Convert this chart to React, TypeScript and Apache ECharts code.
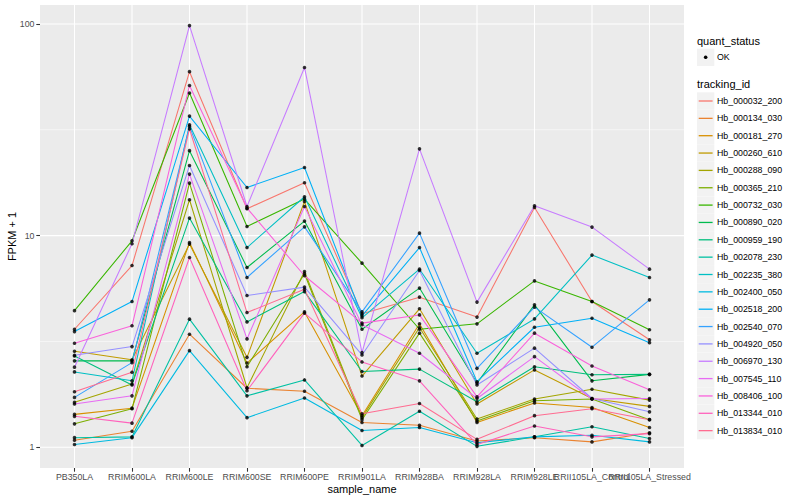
import React, { useEffect, useRef } from "react";
import * as echarts from "echarts";

// ---------------- data ----------------
const sampleNames = [
  "PB350LA",
  "RRIM600LA",
  "RRIM600LE",
  "RRIM600SE",
  "RRIM600PE",
  "RRIM901LA",
  "RRIM928BA",
  "RRIM928LA",
  "RRIM928LE",
  "RRII105LA_Control",
  "RRII105LA_Stressed",
];

const trackingIds = [
  "Hb_000032_200",
  "Hb_000134_030",
  "Hb_000181_270",
  "Hb_000260_610",
  "Hb_000288_090",
  "Hb_000365_210",
  "Hb_000732_030",
  "Hb_000890_020",
  "Hb_000959_190",
  "Hb_002078_230",
  "Hb_002235_380",
  "Hb_002400_050",
  "Hb_002518_200",
  "Hb_002540_070",
  "Hb_004920_050",
  "Hb_006970_130",
  "Hb_007545_110",
  "Hb_008406_100",
  "Hb_013344_010",
  "Hb_013834_010",
];

// FPKM + 1 per sample, one array per tracking_id
const hb000032_200 = [3.61, 7.22, 59.5, 13.39, 17.77, 4.27, 5.12, 4.12, 13.58, 4.88, 3.22];
const hb000134_030 = [1.08, 1.19, 3.42, 1.9, 1.84, 1.31, 1.27, 1.07, 1.11, 1.06, 1.17];
const hb000181_270 = [1.43, 1.53, 9.28, 2.5, 4.36, 1.41, 3.83, 1.31, 1.62, 1.54, 1.24];
const hb000260_610 = [2.84, 2.59, 9.12, 2.66, 14.5, 2.17, 4.51, 1.6, 2.32, 1.7, 1.56];
const hb000288_090 = [1.63, 1.99, 14.77, 1.91, 6.77, 1.38, 3.68, 1.36, 1.69, 1.88, 1.67];
const hb000365_210 = [1.29, 1.52, 17.71, 2.4, 6.6, 1.35, 3.46, 1.33, 1.66, 1.69, 1.35];
const hb000732_030 = [4.42, 9.45, 47.2, 11.04, 14.88, 7.41, 3.61, 3.83, 6.11, 4.88, 3.59];
const hb000890_020 = [2.56, 2.56, 25.2, 7.07, 11.71, 3.61, 5.65, 2.01, 4.71, 2.06, 2.21];
const hb000959_190 = [2.7, 1.97, 12.1, 3.91, 5.44, 2.28, 2.34, 1.64, 2.4, 2.2, 2.21];
const hb002078_230 = [1.11, 1.12, 4.03, 1.75, 2.08, 1.02, 1.48, 1.01, 1.12, 1.25, 1.1];
const hb002235_380 = [2.27, 2.06, 33.4, 8.78, 15.26, 4.09, 6.94, 2.78, 4.04, 8.09, 6.34];
const hb002400_050 = [1.03, 1.11, 2.86, 1.38, 1.71, 1.2, 1.24, 1.05, 1.12, 1.14, 1.06];
const hb002518_200 = [3.52, 4.88, 36.7, 16.88, 20.99, 4.18, 8.78, 2.04, 3.69, 4.07, 3.12];
const hb002540_070 = [1.72, 2.51, 32.8, 6.34, 11.0, 4.36, 10.27, 2.36, 4.59, 2.97, 4.97];
const hb004920_050 = [2.72, 2.99, 21.45, 5.21, 5.71, 2.73, 6.84, 1.97, 2.94, 1.7, 1.47];
const hb006970_130 = [2.39, 9.15, 98.2, 13.73, 62.3, 2.8, 25.7, 4.85, 13.83, 10.97, 6.94];
const hb007545_110 = [1.6, 1.75, 19.53, 3.25, 13.73, 3.79, 2.78, 1.7, 2.68, 1.69, 1.7];
const hb008406_100 = [3.1, 3.75, 51.2, 13.49, 6.46, 3.86, 4.22, 1.73, 3.46, 2.42, 1.87];
const hb013344_010 = [1.4, 1.3, 7.88, 1.85, 4.3, 2.53, 2.06, 1.03, 1.26, 1.12, 1.16];
const hb013834_010 = [1.83, 2.26, 31.9, 4.33, 5.58, 1.44, 1.61, 1.09, 1.41, 1.52, 1.35];

const seriesValues = [
  hb000032_200, hb000134_030, hb000181_270, hb000260_610, hb000288_090,
  hb000365_210, hb000732_030, hb000890_020, hb000959_190, hb002078_230,
  hb002235_380, hb002400_050, hb002518_200, hb002540_070, hb004920_050,
  hb006970_130, hb007545_110, hb008406_100, hb013344_010, hb013834_010,
];

const quantStatus = ["OK"];

const yMajorBreaks = [1, 10, 100];
const yMinorBreaks = [3.1623, 31.623];

// ---------------- styles ----------------
const palette = [
  "#F8766D", "#EA8331", "#D89000", "#C09B00", "#A3A500",
  "#7CAE00", "#39B600", "#00BB4E", "#00BF7D", "#00C1A3",
  "#00BFC4", "#00BAE0", "#00B0F6", "#35A2FF", "#9590FF",
  "#C77CFF", "#E76BF3", "#FA62DB", "#FF62BC", "#FF6C91",
];
const FONT = "Liberation Sans, Arial, Helvetica, sans-serif";

export default function App() {
  const ref = useRef<HTMLDivElement>(null);

  useEffect(() => {
    if (!ref.current) return;
    const chart = echarts.init(ref.current, null, { renderer: "svg" });

    const lineSeries = trackingIds.map((id, k) => ({
      name: id,
      type: "line",
      data: seriesValues[k],
      symbol: "none",
      z: 2,
      silent: true,
      lineStyle: { color: palette[k], width: 1.07 },
      itemStyle: { color: palette[k] },
    }));

    const pointData: any[] = [];
    seriesValues.forEach((vals) => {
      vals.forEach((v, i) => pointData.push([sampleNames[i], v]));
    });

    const option: any = {
      animation: false,
      backgroundColor: "#FFFFFF",
      textStyle: { fontFamily: FONT },
      grid: {
        left: 45.75,
        top: 5,
        width: 632.5,
        height: 463,
        containLabel: false,
        outerBoundsMode: "none",
      },
      xAxis: {
        type: "category",
        data: sampleNames,
        boundaryGap: true,
        axisLine: { show: false },
        axisTick: {
          show: true,
          alignWithLabel: true,
          length: 3.7,
          lineStyle: { color: "#333333", width: 1.07 },
        },
        axisLabel: {
          interval: 0,
          hideOverlap: false,
          margin: 4.5,
          fontSize: 8.8,
          color: "#4D4D4D",
          fontFamily: FONT,
        },
        splitLine: { show: false },
        name: "sample_name",
        nameLocation: "middle",
        nameGap: 15,
        nameMoveOverlap: false,
        nameTextStyle: { fontSize: 11, color: "#000000", fontFamily: FONT },
      },
      yAxis: {
        type: "log",
        logBase: 10,
        min: 0.798,
        max: 122.9,
        offset: 5.75,
        axisLine: { show: false },
        axisTick: {
          show: true,
          length: 3.7,
          customValues: yMajorBreaks,
          lineStyle: { color: "#333333", width: 1.07 },
        },
        axisLabel: {
          customValues: yMajorBreaks,
          margin: 5.5,
          fontSize: 8.8,
          color: "#4D4D4D",
          fontFamily: FONT,
        },
        splitLine: { show: false },
        minorSplitLine: { show: false },
        name: "FPKM + 1",
        nameLocation: "middle",
        nameGap: 23,
        nameMoveOverlap: false,
        nameTextStyle: { fontSize: 11, color: "#000000", fontFamily: FONT },
      },
      series: [
        ...lineSeries,
        {
          name: quantStatus[0],
          type: "scatter",
          data: pointData,
          symbol: "circle",
          symbolSize: 3.6,
          z: 3,
          silent: true,
          itemStyle: { color: "#000000" },
        },
      ],
    };

    chart.setOption(option);

    const yToPx = (v: number): number => {
      const p = chart.convertToPixel({ gridIndex: 0 }, [sampleNames[0], v]) as any;
      return Array.isArray(p) ? p[1] : NaN;
    };
    const xToPx = (s: string): number => {
      const p = chart.convertToPixel({ gridIndex: 0 }, [s, 1]) as any;
      return Array.isArray(p) ? p[0] : NaN;
    };

    // panel decorations (ggplot theme_gray) positioned through the axes' scales
    const P = { left: 40, right: 684, top: 5, bottom: 468 };
    const els: any[] = [];
    els.push({
      type: "rect",
      z: -10,
      silent: true,
      shape: { x: P.left, y: P.top, width: P.right - P.left, height: P.bottom - P.top },
      style: { fill: "#EBEBEB" },
    });
    yMinorBreaks.forEach((v) => {
      const y = yToPx(v);
      els.push({
        type: "line",
        z: -9,
        silent: true,
        shape: { x1: P.left, y1: y, x2: P.right, y2: y },
        style: { stroke: "#FFFFFF", lineWidth: 0.53 },
      });
    });
    yMajorBreaks.forEach((v) => {
      const y = yToPx(v);
      els.push({
        type: "line",
        z: -8,
        silent: true,
        shape: { x1: P.left, y1: y, x2: P.right, y2: y },
        style: { stroke: "#FFFFFF", lineWidth: 1.07 },
      });
    });
    sampleNames.forEach((s) => {
      const x = xToPx(s);
      els.push({
        type: "line",
        z: -8,
        silent: true,
        shape: { x1: x, y1: P.top, x2: x, y2: P.bottom },
        style: { stroke: "#FFFFFF", lineWidth: 1.07 },
      });
    });

    // legend
    const LX = 697;
    const KEY = 17.3;
    const TX = 717;
    els.push({
      type: "text",
      x: LX,
      y: 40.7,
      silent: true,
      style: { text: "quant_status", fontSize: 11, fill: "#000000", fontFamily: FONT, verticalAlign: "middle" },
    });
    els.push({
      type: "rect",
      silent: true,
      shape: { x: LX, y: 57.3 - KEY / 2, width: KEY, height: KEY },
      style: { fill: "#F2F2F2" },
    });
    els.push({
      type: "circle",
      silent: true,
      shape: { cx: LX + KEY / 2, cy: 57.3, r: 1.8 },
      style: { fill: "#000000" },
    });
    els.push({
      type: "text",
      x: TX,
      y: 57.3,
      silent: true,
      style: { text: quantStatus[0], fontSize: 8.8, fill: "#000000", fontFamily: FONT, verticalAlign: "middle" },
    });
    els.push({
      type: "text",
      x: LX,
      y: 84.3,
      silent: true,
      style: { text: "tracking_id", fontSize: 11, fill: "#000000", fontFamily: FONT, verticalAlign: "middle" },
    });
    trackingIds.forEach((id, i) => {
      const cy = 101 + i * 17.35;
      els.push({
        type: "rect",
        silent: true,
        shape: { x: LX, y: cy - KEY / 2, width: KEY, height: KEY },
        style: { fill: "#F2F2F2" },
      });
      els.push({
        type: "line",
        silent: true,
        shape: { x1: LX + 1.7, y1: cy, x2: LX + KEY - 1.7, y2: cy },
        style: { stroke: palette[i], lineWidth: 1.3 },
      });
      els.push({
        type: "text",
        x: TX,
        y: cy,
        silent: true,
        style: { text: id, fontSize: 8.8, fill: "#000000", fontFamily: FONT, verticalAlign: "middle" },
      });
    });

    chart.setOption({ graphic: { elements: els } });

    return () => {
      chart.dispose();
    };
  }, []);

  return (
    <div
      ref={ref}
      style={{ position: "fixed", left: 0, top: 0, width: 800, height: 500, background: "#FFFFFF" }}
    />
  );
}
